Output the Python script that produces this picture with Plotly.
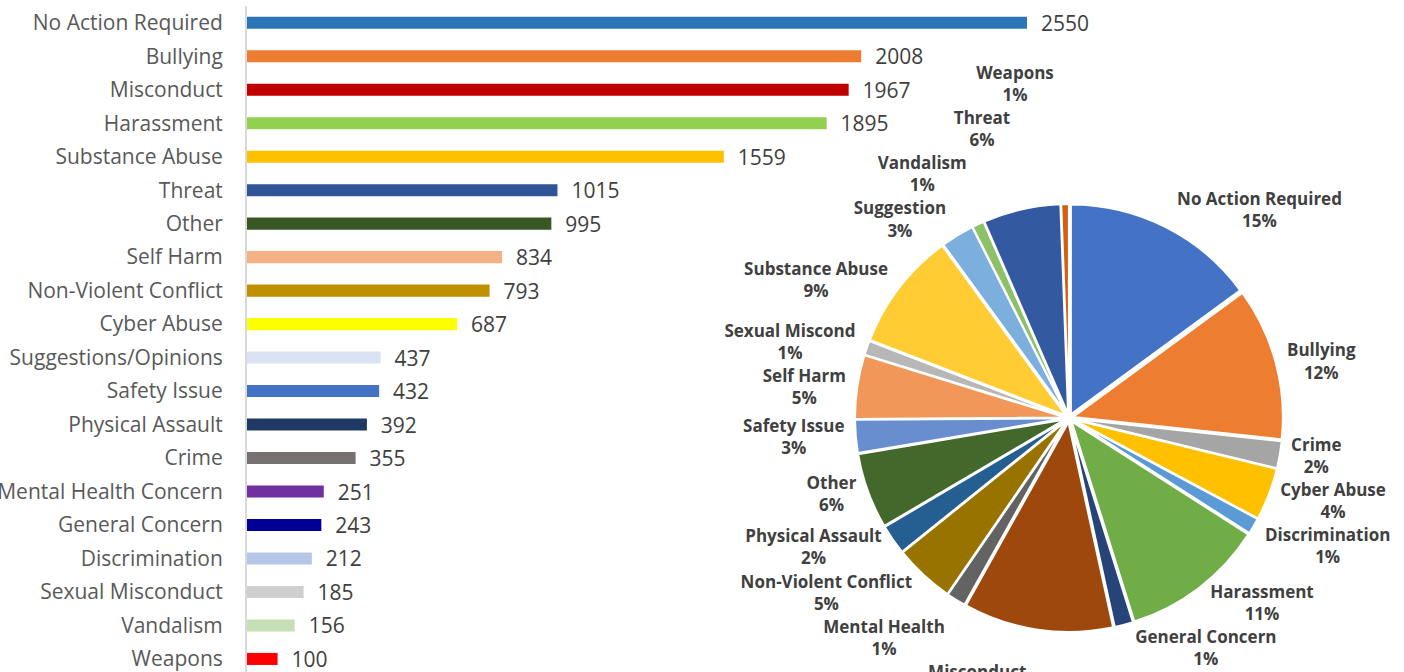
import plotly.graph_objects as go

# Bar chart data (sorted descending)
bar_categories = [
    "No Action Required", "Bullying", "Misconduct", "Harassment", "Substance Abuse",
    "Threat", "Other", "Self Harm", "Non-Violent Conflict", "Cyber Abuse",
    "Suggestions/Opinions", "Safety Issue", "Physical Assault", "Crime",
    "Mental Health Concern", "General Concern", "Discrimination", "Sexual Misconduct",
    "Vandalism", "Weapons",
]
bar_values = [2550, 2008, 1967, 1895, 1559, 1015, 995, 834, 793, 687,
              437, 432, 392, 355, 251, 243, 212, 185, 156, 100]
bar_colors = [
    "#2E75B6", "#ED7D31", "#C00000", "#92D050", "#FFC000",
    "#2F5597", "#385723", "#F4B183", "#BF9000", "#FFFF00",
    "#DAE3F3", "#4472C4", "#203864", "#767171", "#7030A0",
    "#000096", "#B4C7E7", "#D0CECE", "#C5E0B4", "#FF0000",
]

# Pie chart data (alphabetical, clockwise from 12 o'clock)
pie_labels = [
    "No Action Required", "Bullying", "Crime", "Cyber Abuse", "Discrimination",
    "Harassment", "General Concern", "Misconduct", "Mental Health",
    "Non-Violent Conflict", "Physical Assault", "Other", "Safety Issue",
    "Self Harm", "Sexual Miscond", "Substance Abuse", "Suggestion",
    "Vandalism", "Threat", "Weapons",
]
pie_values = [2550, 2008, 355, 687, 212, 1895, 243, 1967, 251, 793,
              392, 995, 432, 834, 185, 1559, 437, 156, 1015, 100]
pie_colors = [
    "#4472C4", "#ED7D31", "#A5A5A5", "#FFC000", "#5B9BD5", "#70AD47",
    "#264478", "#9E480E", "#636363", "#997300", "#255E91", "#43682B",
    "#698ED0", "#F1975A", "#B7B7B7", "#FFCD33", "#7CAFDD", "#8CC168",
    "#335AA1", "#D26012",
]

W, H = 1404, 672
TOP = 6

fig = go.Figure()

fig.add_trace(
    go.Bar(
        x=bar_values,
        y=bar_categories,
        orientation="h",
        marker=dict(color=bar_colors, line=dict(width=0)),
        width=0.36,
        texttemplate="  %{x}",
        textposition="outside",
        constraintext="none",
        textfont=dict(family="Open Sans", size=21, color="#404040"),
        cliponaxis=False,
        hoverinfo="skip",
    )
)

# pie centre ~ (1069, 418) px, radius ~ 214 px
cx, cy, r = 1069, 418, 214
fig.add_trace(
    go.Pie(
        labels=pie_labels,
        values=pie_values,
        sort=False,
        direction="clockwise",
        rotation=0,
        marker=dict(colors=pie_colors, line=dict(color="white", width=2)),
        pull=0.02,
        textposition="outside",
        texttemplate="<b>%{label}</b><br><b>%{percent:.0%}</b>",
        outsidetextfont=dict(family="Open Sans", size=17, color="#404040"),
        domain=dict(
            x=[(cx - r) / W, (cx + r) / W],
            y=[(H - cy - r) / (H - TOP), (H - cy + r) / (H - TOP)],
        ),
        automargin=False,
        showlegend=False,
        hoverinfo="skip",
    )
)

x_px_start = 247
x_scale = (1027 - x_px_start) / 2550  # px per unit
fig.update_layout(
    width=W,
    height=H,
    margin=dict(l=0, r=0, t=TOP, b=0),
    paper_bgcolor="white",
    plot_bgcolor="white",
    showlegend=False,
    xaxis=dict(
        domain=[x_px_start / W, 1],
        range=[0, (W - x_px_start) / x_scale],
        visible=False,
        fixedrange=True,
    ),
    yaxis=dict(
        categoryorder="array",
        categoryarray=bar_categories,
        range=[19.39, -0.5],
        showline=True,
        linecolor="#D9D9D9",
        linewidth=2,
        showgrid=False,
        ticks="",
        ticklabelstandoff=18,
        tickfont=dict(family="Open Sans", size=21, color="#595959"),
        automargin=False,
        fixedrange=True,
    ),
)

# no page margin, and no leader lines on the pie labels (the original has none)
post = (
    "document.body.style.margin='0';"
    "document.querySelectorAll('path.textline').forEach(function(e){e.style.display='none';});"
)
fig.write_html("out.html", post_script=post, config={"displayModeBar": False})
